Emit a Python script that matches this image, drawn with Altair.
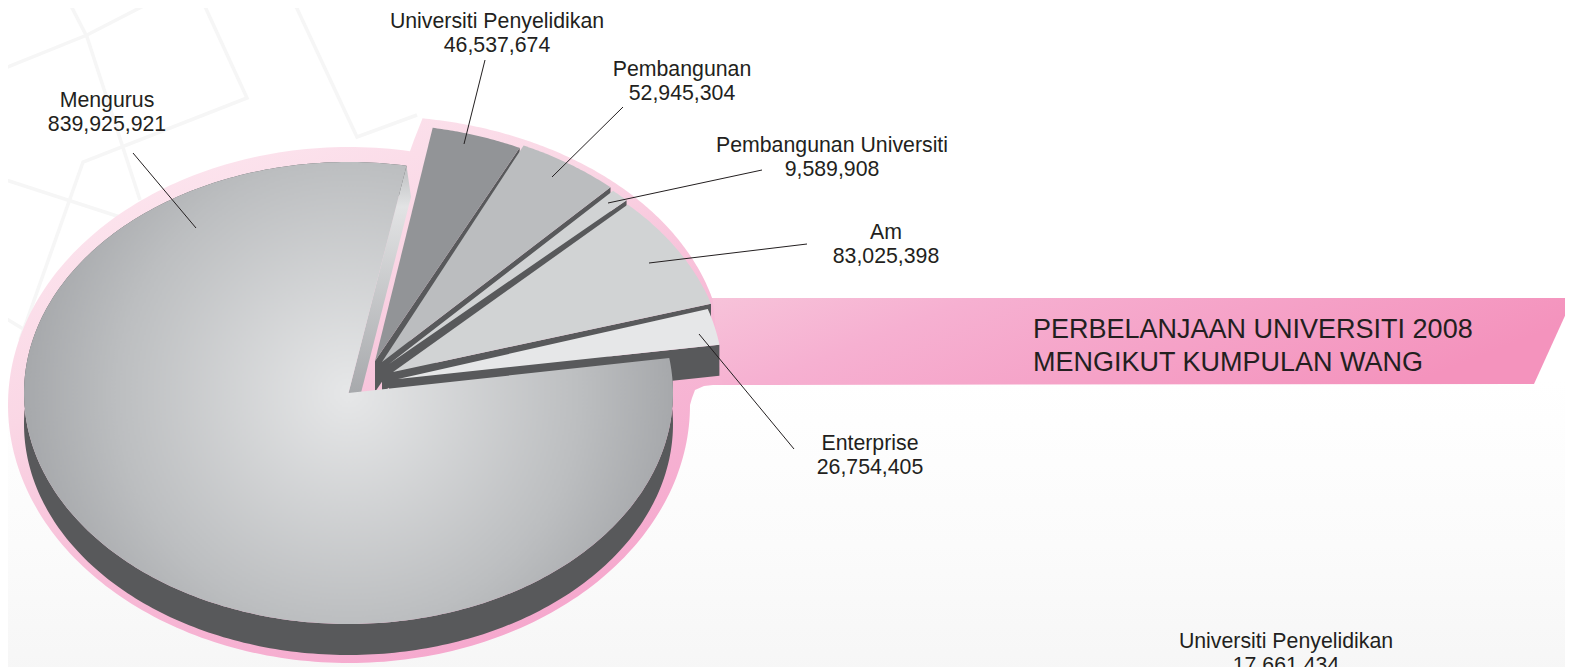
import math
import altair as alt

# ---- data ----
CATEGORIES = ["Universiti Penyelidikan", "Pembangunan", "Pembangunan Universiti", "Am", "Enterprise", "Mengurus"]
VALUES = [46537674, 52945304, 9589908, 83025398, 26754405, 839925921]
EXTRA_CATEGORY = "Universiti Penyelidikan"
EXTRA_VALUE = 17661434
TITLE_LINES = ["PERBELANJAAN UNIVERSITI 2008", "MENGIKUT KUMPULAN WANG"]

# ---- artwork geometry and style (reference pixels) ----
RX, RY, DEPTH = 324, 231, 31
APEX = [(375, 361), (382, 362), (389, 364), (393, 372), (398, 379), (348, 393)]
START_DEG = [80.0, 65.0, 47.3, 45.0, 17.6, 79.7]
GROW = [1.025, 1.034, 1.02, 1.025, 1.003, 1.0]
TOPS = ["#929497", "#bbbdbf", "#d1d3d4", "#d1d3d4", "#e6e7e8"]
DARK = "#58595b"
INK = "#231f20"
MAIN_STRETCH = 1.012
LABEL_POS = [(497, 21.5), (682, 69.5), (832, 145.5), (886, 232.5), (870, 443.5), (107, 100.5)]
EXTRA_POS = (1286, 641.5)
LINE_GAP = 24.5
TITLE_POS = (1033, 330)
TITLE_GAP = 33
LEADERS = [
    [(485, 60), (464, 144)], [(623, 107), (552, 177)], [(762, 170), (608, 203)],
    [(807, 244), (649, 263)], [(794, 449), (699, 334)], [(133, 153), (196, 228)],
]
BACK_LINES = [
    [(68, 0), (87, 37), (140, 200)], [(0, 70), (87, 35), (155, 0)],
    [(202, 0), (247, 98), (83, 162), (20, 340)], [(0, 178), (120, 217)],
    [(293, 0), (357, 137), (417, 115)], [(0, 315), (25, 330)],
]

TOTAL = sum(VALUES)


def pt(c, deg, rx=RX, ry=RY, dy=0):
    a = math.radians(deg)
    return (c[0] + rx * math.cos(a), c[1] - ry * math.sin(a) + dy)


def arc(c, a0, a1, rx=RX, ry=RY, dy=0, n=120):
    return [pt(c, a0 + (a1 - a0) * i / n, rx, ry, dy) for i in range(n + 1)]


def feat(points, kind="Polygon"):
    pts = [list(p) for p in points]
    if kind == "Polygon":
        pts = [pts + [pts[0]]]
    return {"type": "Feature", "properties": {}, "geometry": {"type": kind, "coordinates": pts}}


def shape(features, **mark):
    if isinstance(features, dict):
        features = [features]
    return alt.Chart(alt.Data(values=features)).mark_geoshape(**mark).project(
        type="identity", scale=1, translate=[-8, -8])


def stops(*pairs):
    return [alt.GradientStop(offset=o, color=c) for o, c in pairs]


def linear(x1, y1, x2, y2, *pairs):
    return alt.LinearGradient(gradient="linear", x1=x1, y1=y1, x2=x2, y2=y2, stops=stops(*pairs))


layers = []

# page backdrop
layers.append(shape(feat([(0, 380), (1590, 380), (1590, 680), (0, 680)]), strokeWidth=0,
                    fill=linear(0, 0, 0, 1, (0, "#ffffff"), (0.55, "#fbfbfb"), (1, "#f6f6f6"))))
layers.append(shape([feat(l, "LineString") for l in BACK_LINES], filled=False, stroke="#f6f6f6", strokeWidth=3.5))

# banner
layers.append(shape(feat([(712, 298), (1573, 298), (1534, 384), (695, 385)]), strokeWidth=0,
                    fill=linear(0, 0, 1, 0.25, (0, "#f7c4da"), (0.3, "#f6b0d1"), (1, "#f493bd"))))

# pink halo
HALO_C, HALO_RX, HALO_RY = (349, 405), 341, 258
halo = arc((374, 358), 82, 14, 349, 242)
halo += [(722, 384), (704, 386), (695, 390), (692, 398)]
halo += arc(HALO_C, 360, 79.7, HALO_RX, HALO_RY, n=240)
halo += [(414, 140)]
layers.append(shape(feat(halo), strokeWidth=0,
                    fill=linear(0.15, 0, 0.75, 1, (0, "#fde9f1"), (0.35, "#fad7e5"), (0.62, "#f7bad6"), (1, "#f5a5cc"))))

# exploded slices, back to front
for i in range(5):
    sweep = VALUES[i] / TOTAL * 360
    a0, a1 = START_DEG[i], START_DEG[i] - sweep
    c = APEX[i]
    rx, ry = RX * GROW[i], RY * GROW[i]
    end = pt(c, a1, rx, ry)
    wall = [end, (end[0], end[1] + DEPTH), (c[0], c[1] + DEPTH), c]
    layers.append(shape(feat(wall), fill=DARK, strokeWidth=0))
    layers.append(shape(feat([c] + arc(c, a0, a1, rx, ry, n=40)), fill=TOPS[i], strokeWidth=0))

# the large slice: rim, cut wall, top
c = (APEX[5][0] + 0.5, APEX[5][1])
main_rx = RX + 0.5
sweep = VALUES[5] / TOTAL * 360 * MAIN_STRETCH
a0, a1 = START_DEG[5], START_DEG[5] + sweep
top_arc = arc(c, a0, a1, rx=main_rx, n=300)
rim = top_arc + arc(c, a1, a0, rx=main_rx, dy=DEPTH, n=300)
layers.append(shape(feat(rim), fill=DARK, strokeWidth=0))
layers.append(shape(feat([pt(c, a0, main_rx), (411, 197), (361, 393), c]), strokeWidth=0,
                    fill=linear(0, 0, 0, 1, (0, "#bcbec0"), (0.18, "#e2e3e4"), (1, "#a7a9ac"))))
# the two zero-width spikes make the bounding box square, so that the radial gradient stays round
spiked = [c, (c[0], c[1] - main_rx), c] + top_arc + [c, (c[0], c[1] + main_rx)]
layers.append(shape(feat(spiked), strokeWidth=0,
                    fill=alt.RadialGradient(gradient="radial", x1=0.5, y1=0.5, x2=0.5, y2=0.5, r1=0, r2=0.5,
                                            stops=stops((0, "#e6e7e8"), (0.713, "#bcbec0"), (1, "#a6a8ab")))))

# leaders
layers.append(shape([feat(l, "LineString") for l in LEADERS], filled=False, stroke=INK, strokeWidth=1))

# labels
rows = []
for name, val, (x, y) in zip(CATEGORIES + [EXTRA_CATEGORY], VALUES + [EXTRA_VALUE], LABEL_POS + [EXTRA_POS]):
    rows.append({"t": name, "x": x, "y": y})
    rows.append({"t": f"{val:,}", "x": x, "y": y + LINE_GAP})
layers.append(alt.Chart(alt.Data(values=rows)).mark_text(
    font="Liberation Sans", fontSize=21.3, color=INK, align="center", baseline="middle").encode(
    longitude="x:Q", latitude="y:Q", text="t:N").project(type="identity", scale=1, translate=[-8, -8]))

trows = [{"t": t, "x": TITLE_POS[0], "y": TITLE_POS[1] + i * TITLE_GAP} for i, t in enumerate(TITLE_LINES)]
layers.append(alt.Chart(alt.Data(values=trows)).mark_text(
    font="Liberation Sans", fontSize=27, color=INK, align="left", baseline="middle").encode(
    longitude="x:Q", latitude="y:Q", text="t:N").project(type="identity", scale=1, translate=[-8, -8]))

chart = alt.layer(*layers).properties(
    width=1557, height=659, padding=0, autosize=alt.AutoSizeParams(type="none"), background="#ffffff"
).configure_view(strokeWidth=0)

chart.save("out.html", embed_options={"renderer": "svg", "actions": False})
